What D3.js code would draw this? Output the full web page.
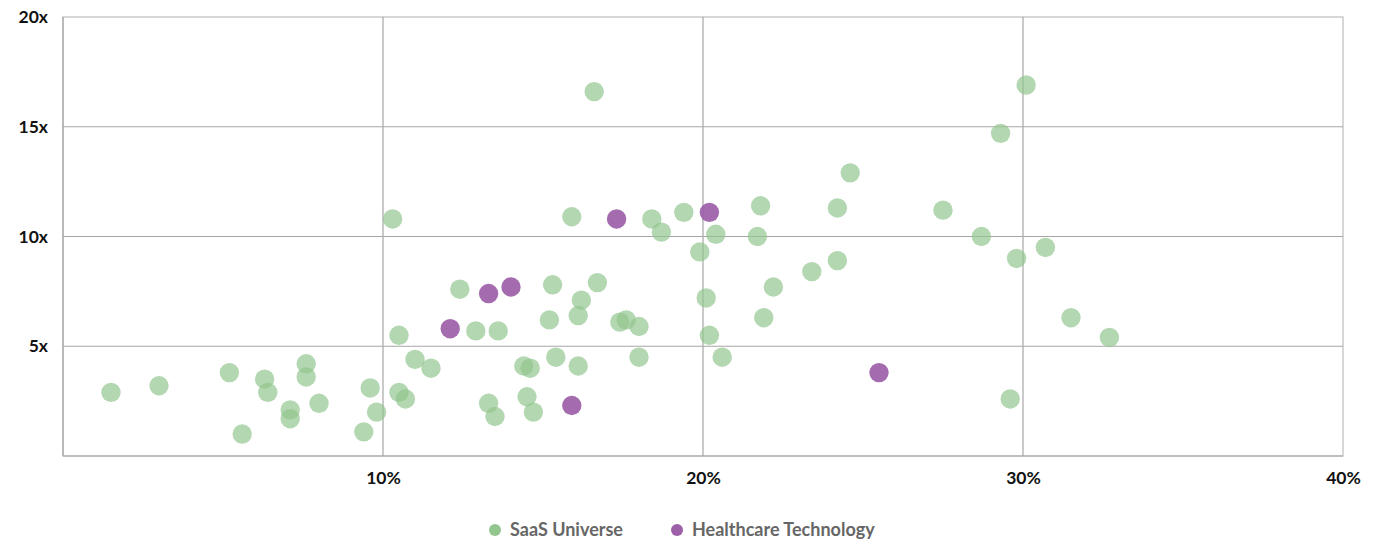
<!DOCTYPE html>
<html>
<head>
<meta charset="utf-8">
<script src="https://cdn.jsdelivr.net/npm/d3@7"></script>
<style>
  html, body { margin: 0; padding: 0; background: #fff; }
  svg { display: block; font-family: Lato, "Open Sans", sans-serif; }
</style>
</head>
<body>
<svg id="chart" width="1384" height="539"></svg>
<script>
// Revenue growth (%) vs. EV / revenue multiple (x)
const saasGrowth = [1.5, 3.0, 5.2, 5.6, 6.3, 6.4, 7.1, 7.1, 7.6, 7.6, 8.0, 9.4, 9.6, 9.8, 10.3, 10.5, 10.5, 10.7, 11.0, 11.5,
  12.4, 12.9, 13.3, 13.5, 13.6, 14.4, 14.5, 14.6, 14.7, 15.2, 15.3, 15.4, 15.9, 16.1, 16.1, 16.2, 16.6, 16.7, 17.4, 17.6,
  18.0, 18.0, 18.4, 18.7, 19.4, 19.9, 20.1, 20.2, 20.4, 20.6, 21.7, 21.8, 21.9, 22.2, 23.4, 24.2, 24.2, 24.6, 27.5, 28.7,
  29.3, 29.6, 29.8, 30.1, 30.7, 31.5, 32.7];
const saasMultiple = [2.9, 3.2, 3.8, 1.0, 3.5, 2.9, 2.1, 1.7, 4.2, 3.6, 2.4, 1.1, 3.1, 2.0, 10.8, 5.5, 2.9, 2.6, 4.4, 4.0,
  7.6, 5.7, 2.4, 1.8, 5.7, 4.1, 2.7, 4.0, 2.0, 6.2, 7.8, 4.5, 10.9, 4.1, 6.4, 7.1, 16.6, 7.9, 6.1, 6.2,
  5.9, 4.5, 10.8, 10.2, 11.1, 9.3, 7.2, 5.5, 10.1, 4.5, 10.0, 11.4, 6.3, 7.7, 8.4, 8.9, 11.3, 12.9, 11.2, 10.0,
  14.7, 2.6, 9.0, 16.9, 9.5, 6.3, 5.4];
const hcGrowth = [12.1, 13.3, 14.0, 15.9, 17.3, 20.2, 25.5];
const hcMultiple = [5.8, 7.4, 7.7, 2.3, 10.8, 11.1, 3.8];

const xTicks = [10, 20, 30, 40];
const yTicks = [5, 10, 15, 20];
const seriesNames = ["SaaS Universe", "Healthcare Technology"];
const seriesColors = ["#93c68e", "#9c5fa8"];

const svg = d3.select("#chart");
const margin = { left: 63, right: 41, top: 17, bottom: 83 };
const W = 1384, H = 539;

const x = d3.scaleLinear().domain([0, 40]).range([margin.left, W - margin.right]);
const y = d3.scaleLinear().domain([0, 20]).range([H - margin.bottom, margin.top]);

const gridColor = "#a6a6a6";

// plot frame
svg.append("rect")
  .attr("x", x(0)).attr("y", y(20))
  .attr("width", x(40) - x(0)).attr("height", y(0) - y(20))
  .attr("fill", "none").attr("stroke", "#bdbdbd").attr("stroke-width", 1.2);

// gridlines
svg.append("g").selectAll("line").data(xTicks.filter(d => d < 40)).join("line")
  .attr("x1", d => x(d)).attr("x2", d => x(d))
  .attr("y1", y(0)).attr("y2", y(20))
  .attr("stroke", gridColor).attr("stroke-width", 1.2);
svg.append("g").selectAll("line").data(yTicks.filter(d => d < 20)).join("line")
  .attr("x1", x(0)).attr("x2", x(40))
  .attr("y1", d => y(d)).attr("y2", d => y(d))
  .attr("stroke", gridColor).attr("stroke-width", 1.2);
// left and bottom axis lines
svg.append("line").attr("x1", x(0)).attr("x2", x(0)).attr("y1", y(0)).attr("y2", y(20))
  .attr("stroke", gridColor).attr("stroke-width", 1.2);
svg.append("line").attr("x1", x(0)).attr("x2", x(40)).attr("y1", y(0)).attr("y2", y(0))
  .attr("stroke", gridColor).attr("stroke-width", 1.2);

// axis labels via d3 axes
const xAxis = svg.append("g")
  .attr("transform", `translate(0,${y(0)})`)
  .call(d3.axisBottom(x).tickValues(xTicks).tickFormat(d => d + "%").tickSize(0).tickPadding(16));
const yAxis = svg.append("g")
  .attr("transform", `translate(${x(0)},0)`)
  .call(d3.axisLeft(y).tickValues(yTicks).tickFormat(d => d + "x").tickSize(0).tickPadding(15));
[xAxis, yAxis].forEach(g => {
  g.select(".domain").remove();
  g.selectAll("text")
    .attr("fill", "#111")
    .style("font-size", "17.5px")
    .style("font-weight", "700")
    .style("font-family", "Lato, sans-serif");
});

// points
const r = 9.7;
const saas = saasGrowth.map((g, i) => ({ g, m: saasMultiple[i] }));
const hc = hcGrowth.map((g, i) => ({ g, m: hcMultiple[i] }));

svg.append("g").selectAll("circle").data(saas).join("circle")
  .attr("cx", d => x(d.g)).attr("cy", d => y(d.m)).attr("r", r)
  .attr("fill", seriesColors[0]).attr("fill-opacity", 0.7);
svg.append("g").selectAll("circle").data(hc).join("circle")
  .attr("cx", d => x(d.g)).attr("cy", d => y(d.m)).attr("r", r)
  .attr("fill", seriesColors[1]).attr("fill-opacity", 0.92);

// legend
const legendItems = [
  { name: seriesNames[0], color: seriesColors[0], cx: 495 },
  { name: seriesNames[1], color: seriesColors[1], cx: 677 }
];
const legend = svg.append("g");
legendItems.forEach(it => {
  legend.append("circle").attr("cx", it.cx).attr("cy", 530).attr("r", 6).attr("fill", it.color);
  legend.append("text").attr("x", it.cx + 15).attr("y", 530).attr("dy", "0.36em")
    .attr("fill", "#666").style("font-size", "18px").style("font-weight", "700")
    .text(it.name);
});
</script>
</body>
</html>
